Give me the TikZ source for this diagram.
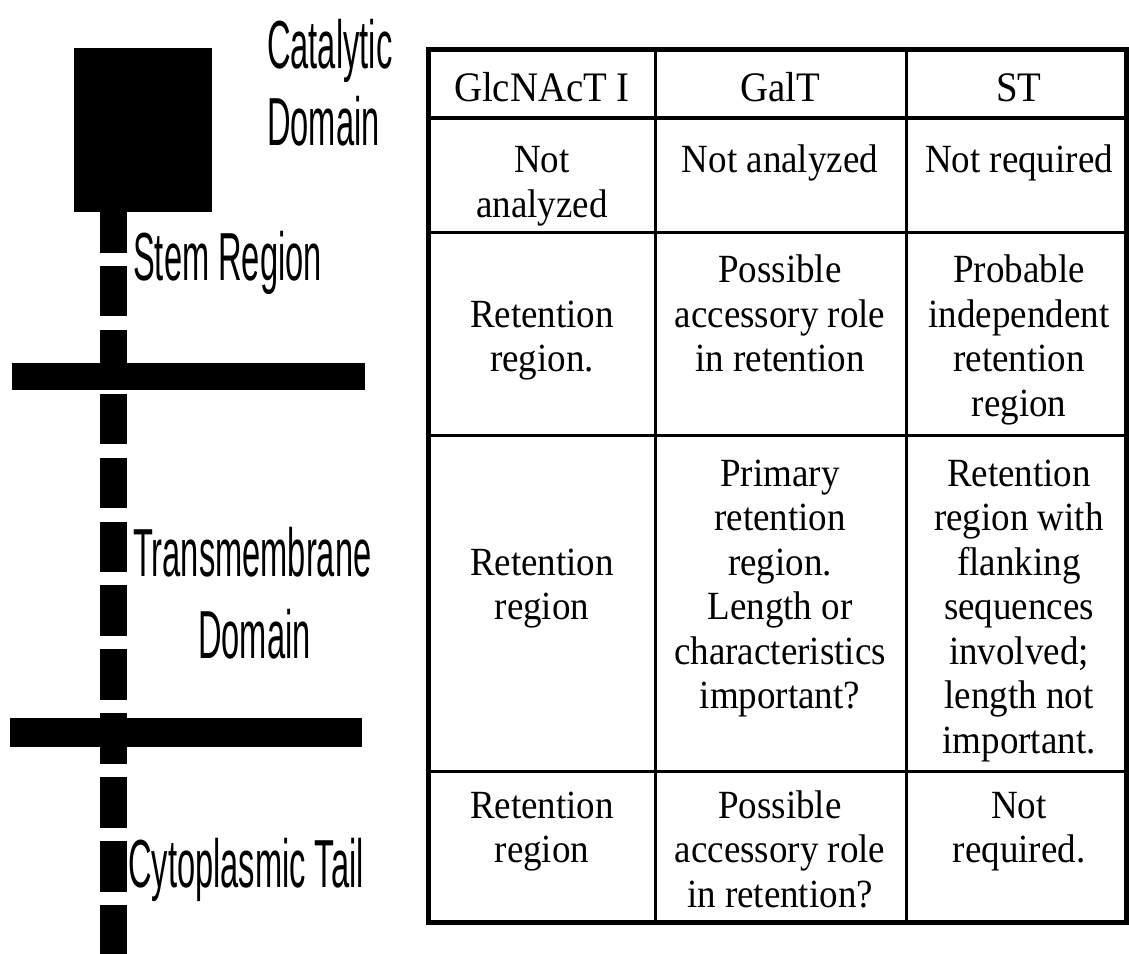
\documentclass[tikz,border=0pt]{standalone}
\usepackage{fontspec}
\newfontfamily\tabfont[FakeStretch=0.925]{Liberation Serif}
\newfontfamily\labfont[FakeStretch=0.48]{Liberation Sans}
\newcommand\celltext[1]{\begin{tabular}[t]{@{}c@{}}#1\end{tabular}}

\begin{document}
\begin{tikzpicture}[x=1pt,y=-1pt,
  partlabel/.style={anchor=base west, inner sep=0pt,
    font=\labfont\fontsize{68}{68}\selectfont},
  headtext/.style={anchor=base, inner sep=0pt,
    font=\tabfont\fontsize{42}{44.5}\selectfont},
  celltxt/.style={anchor=base, inner sep=0pt,
    font=\tabfont\fontsize{40}{44.5}\selectfont},
  membar/.style={fill=black},
  stemline/.style={line width=27pt, dash pattern=on 50.5pt off 13.4pt},
  frame/.style={line width=5pt},
  headrule/.style={line width=4pt},
  gridrule/.style={line width=3pt}]

\useasboundingbox (0,0) rectangle (1129,953);

% ---- protein schematic ----
\coordinate (stemtop) at (113,202);
\coordinate (stembot) at (113,960);
\draw[stemline] (stemtop) -- (stembot);
\fill[membar] (74,48) rectangle (212,212);   % catalytic block
\fill[membar] (12,363) rectangle (365,390);  % luminal membrane face
\fill[membar] (10,718) rectangle (362,747);  % cytoplasmic membrane face

\node[partlabel] (cat1) at (267,68)  {Catalytic};
\node[partlabel] (cat2) at (267,145) {Domain};
\node[partlabel] (stem) at (133,280) {Stem Region};
\node[partlabel] (tm1)  at (133,576) {Transmembrane};
\node[partlabel] (tm2)  at (198,658) {Domain};
\node[partlabel] (cyt)  at (128,887) {Cytoplasmic Tail};

% ---- table rules ----
\draw[frame] (428,49) rectangle (1126,922);
\draw[headrule] (428,118) -- (1126,118);
\draw[gridrule] (428,232) -- (1126,232);
\draw[gridrule] (428,435) -- (1126,435);
\draw[gridrule] (428,771) -- (1126,771);
\draw[gridrule] (655,49) -- (655,922);
\draw[gridrule] (906,49) -- (906,922);

% ---- header ----
\node[headtext] (h1) at (542,101)  {GlcNAcT I};
\node[headtext] (h2) at (780,101)  {GalT};
\node[headtext] (h3) at (1019,101) {ST};

% ---- catalytic domain row ----
\node[celltxt] (a1) at (542,172.5)  {\celltext{Not\\analyzed}};
\node[celltxt] (a2) at (780,172.5)  {\celltext{Not analyzed}};
\node[celltxt] (a3) at (1019,172.5) {\celltext{Not required}};

% ---- stem row ----
\node[celltxt] (b1) at (542,327)  {\celltext{Retention\\region.}};
\node[celltxt] (b2) at (780,282.5)  {\celltext{Possible\\accessory role\\in retention}};
\node[celltxt] (b3) at (1019,282.5) {\celltext{Probable\\independent\\retention\\region}};

% ---- transmembrane row ----
\node[celltxt] (c1) at (542,575)  {\celltext{Retention\\region}};
\node[celltxt] (c2) at (780,486)  {\celltext{Primary\\retention\\region.\\Length or\\characteristics\\important?}};
\node[celltxt] (c3) at (1019,486) {\celltext{Retention\\region with\\flanking\\sequences\\involved;\\length not\\important.}};

% ---- cytoplasmic tail row ----
\node[celltxt] (d1) at (542,818)  {\celltext{Retention\\region}};
\node[celltxt] (d2) at (780,818)  {\celltext{Possible\\accessory role\\in retention?}};
\node[celltxt] (d3) at (1019,818) {\celltext{Not\\required.}};
\end{tikzpicture}
\end{document}
